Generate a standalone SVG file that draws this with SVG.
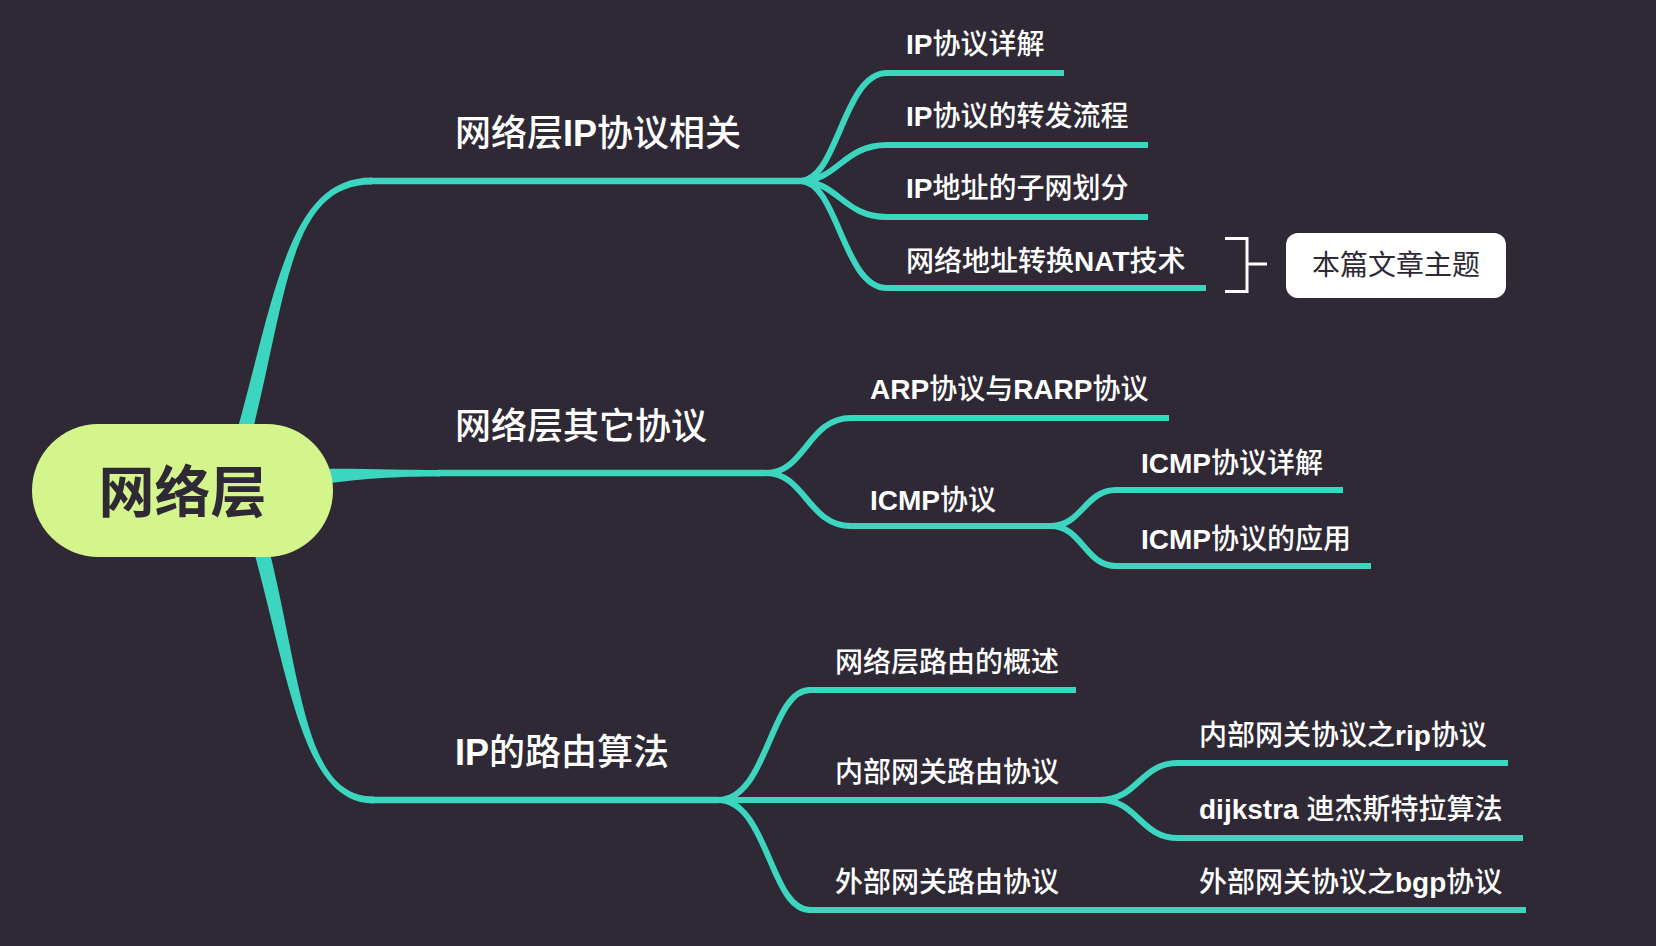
<svg xmlns="http://www.w3.org/2000/svg" width="1656" height="946" viewBox="0 0 1656 946">
<style>
.bg{fill:#2e2934}
.ln{fill:none;stroke:#3cd6c0;stroke-width:6;stroke-linecap:butt}
.lb{fill:none;stroke:#3cd6c0;stroke-width:6.5}
.tp{fill:#3cd6c0}
.t{font-family:"Liberation Sans","Noto Sans CJK SC",sans-serif;fill:#ffffff;font-size:28px;font-weight:500}
.br{font-size:36px;font-weight:500}
.b{font-weight:700}
.root{font-family:"Noto Sans CJK SC",sans-serif;font-size:56px;font-weight:700;fill:#2e2934}
.box{font-family:"Noto Sans CJK SC",sans-serif;font-size:28px;fill:#2e2934}
</style>
<rect class="bg" x="0" y="0" width="1656" height="946"/>
<g id="connectors">
  <!-- root to branches (tapered) -->
  <path class="tp" d="M237.8,428.1 C276.2,288.5 290,177.5 372,177.5 L372,184.5 C290,184.5 287.8,291.5 252.3,431.9 Z"/>
  <path class="lb" d="M370,181 L800,181"/>
  <path class="tp" d="M310,469 C360,468 400,470 440,470 L440,476.5 C400,476.5 360,478 310,486 Z"/>
  <path class="lb" d="M438,473 L766,473"/>
  <path class="tp" d="M254.7,553.9 C291.2,691.5 305,803.5 374,803.5 L374,796.5 C305,796.5 302.8,688.5 269.3,550.1 Z"/>
  <path class="lb" d="M372,800 L718,800"/>
  <!-- branch 1 children -->
  <path class="ln" d="M800,181 C838,181 843,73 887,73 L1064,73"/>
  <path class="ln" d="M800,181 C838,181 843,145 887,145 L1148,145"/>
  <path class="ln" d="M800,181 C838,181 843,217 887,217 L1148,217"/>
  <path class="ln" d="M800,181 C838,181 843,288 887,288 L1206,288"/>
  <!-- branch 2 children -->
  <path class="ln" d="M766,473 C805,473 808,418 851,418 L1169,418"/>
  <path class="ln" d="M766,473 C805,473 808,526 851,526 L1051,526"/>
  <path class="ln" d="M1051,526 C1082,526 1085,490 1116,490 L1343,490"/>
  <path class="ln" d="M1051,526 C1082,526 1085,566 1116,566 L1371,566"/>
  <!-- branch 3 children -->
  <path class="ln" d="M718,800 C768,800 770,690 810,690 L1076,690"/>
  <path class="ln" d="M718,800 L1100,800"/>
  <path class="ln" d="M718,800 C768,800 770,910 810,910 L1100,910"/>
  <path class="ln" d="M1100,800 C1138,800 1140,763 1178,763 L1508,763"/>
  <path class="ln" d="M1100,800 C1138,800 1140,838 1178,838 L1523,838"/>
  <path class="ln" d="M1100,910 L1526,910"/>
  <!-- summary bracket -->
  <path d="M1225,238.5 H1247 V291.5 H1225 M1247,264 H1267" fill="none" stroke="#ffffff" stroke-width="3"/>
</g>
<g id="root">
  <rect x="32" y="424" width="301" height="133" rx="66.5" fill="#d3f58b"/>
  <text class="root" x="182.5" y="512" text-anchor="middle">网络层</text>
</g>
<g id="n-ip"><text class="t br" x="455" y="146">网络层<tspan class="b">IP</tspan>协议相关</text></g>
<g id="n-ip-1"><text class="t" x="906" y="54"><tspan class="b">IP</tspan>协议详解</text></g>
<g id="n-ip-2"><text class="t" x="906" y="126"><tspan class="b">IP</tspan>协议的转发流程</text></g>
<g id="n-ip-3"><text class="t" x="906" y="198"><tspan class="b">IP</tspan>地址的子网划分</text></g>
<g id="n-ip-4"><text class="t" x="906" y="271">网络地址转换<tspan class="b">NAT</tspan>技术</text></g>
<g id="summary">
  <rect x="1286" y="233" width="220" height="65" rx="12" fill="#ffffff"/>
  <text class="box" x="1396" y="275" text-anchor="middle">本篇文章主题</text>
</g>
<g id="n-other"><text class="t br" x="455" y="439">网络层其它协议</text></g>
<g id="n-arp"><text class="t" x="870" y="399"><tspan class="b">ARP</tspan>协议与<tspan class="b">RARP</tspan>协议</text></g>
<g id="n-icmp"><text class="t" x="870" y="510"><tspan class="b">ICMP</tspan>协议</text></g>
<g id="n-icmp-1"><text class="t" x="1141" y="473"><tspan class="b">ICMP</tspan>协议详解</text></g>
<g id="n-icmp-2"><text class="t" x="1141" y="549"><tspan class="b">ICMP</tspan>协议的应用</text></g>
<g id="n-route"><text class="t br" x="455" y="765"><tspan class="b">IP</tspan>的路由算法</text></g>
<g id="n-route-1"><text class="t" x="835" y="672">网络层路由的概述</text></g>
<g id="n-route-2"><text class="t" x="835" y="782">内部网关路由协议</text></g>
<g id="n-route-3"><text class="t" x="835" y="892">外部网关路由协议</text></g>
<g id="n-rip"><text class="t" x="1199" y="745">内部网关协议之<tspan class="b">rip</tspan>协议</text></g>
<g id="n-dij"><text class="t" x="1199" y="819"><tspan class="b">dijkstra </tspan>迪杰斯特拉算法</text></g>
<g id="n-bgp"><text class="t" x="1199" y="892">外部网关协议之<tspan class="b">bgp</tspan>协议</text></g>
</svg>
